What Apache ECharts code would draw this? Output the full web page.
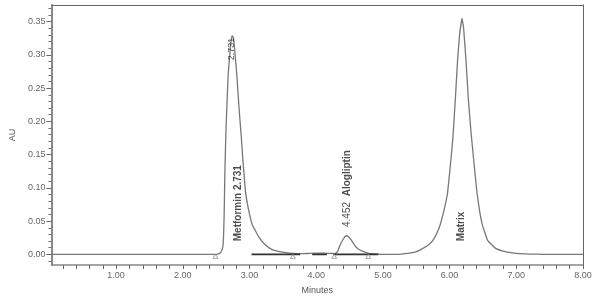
<!DOCTYPE html>
<html>
<head>
<meta charset="utf-8">
<script src="https://cdn.jsdelivr.net/npm/echarts@6/dist/echarts.min.js"></script>
<style>html,body{margin:0;padding:0;background:#fff}#c{width:602px;height:300px}</style>
</head>
<body>
<div id="c"></div>
<script>
// Chromatogram trace: retention time (min) and absorbance (AU)
var traceTime = [0.03,2.45,2.52,2.56,2.585,2.60,2.61,2.62,2.63,2.645,2.66,2.68,2.70,2.72,2.74,2.76,2.78,2.81,2.843,2.877,2.90,2.92,2.94,2.98,3.04,3.14,3.24,3.34,3.45,3.6,3.8,3.9,4.1,4.22,4.28,4.32,4.35,4.40,4.45,4.48,4.53,4.58,4.63,4.71,4.8,4.9,5.0,5.2,5.4,5.5,5.6,5.68,5.75,5.81,5.86,5.92,5.97,6.02,6.05,6.09,6.12,6.15,6.186,6.21,6.245,6.28,6.32,6.36,6.41,6.45,6.49,6.57,6.69,6.8,6.9,7.0,7.2,7.4,8.0];
var traceAU   = [0,0,0.0005,0.002,0.006,0.012,0.025,0.06,0.12,0.18,0.22,0.27,0.295,0.318,0.329,0.325,0.305,0.269,0.22,0.176,0.143,0.118,0.094,0.070,0.045,0.026,0.014,0.007,0.004,0.002,0.001,0.0015,0.002,0.0015,0.001,0.004,0.012,0.022,0.028,0.027,0.021,0.013,0.008,0.004,0.001,0.0005,0,0,0.002,0.004,0.009,0.014,0.021,0.032,0.045,0.068,0.093,0.143,0.176,0.24,0.293,0.33,0.355,0.34,0.293,0.235,0.185,0.143,0.093,0.065,0.045,0.021,0.009,0.005,0.003,0.0015,0.0005,0,0];
// Integration markers and baselines
var markerTimes = [2.49,3.65,4.27,4.78];
var baselineStarts = [3.03,3.94,4.26];
var baselineEnds   = [3.76,4.16,4.93];
// Annotations
var annTexts = ['2.731','Metformin 2.731','4.452','Alogliptin','Matrix'];
var annTime  = [2.729,2.833,4.468,4.468,6.171];
var annAU    = [0.309,0.077,0.060,0.122,0.042];
var annBold  = [false,true,false,true,true];
// Axis ticks
var xLabels = [1,2,3,4,5,6,7,8];
var xTicks = [0.2,0.4,0.6,0.8,1.0,1.2,1.4,1.6,1.8,2.0,2.2,2.4,2.6,2.8,3.0,3.2,3.4,3.6,3.8,4.0,4.2,4.4,4.6,4.8,5.0,5.2,5.4,5.6,5.8,6.0,6.2,6.4,6.6,6.8,7.0,7.2,7.4,7.6,7.8,8.0];
var yLabels = [0,0.05,0.10,0.15,0.20,0.25,0.30,0.35];
var yMinor = [-0.01,0.01,0.02,0.03,0.04,0.06,0.07,0.08,0.09,0.11,0.12,0.13,0.14,0.16,0.17,0.18,0.19,0.21,0.22,0.23,0.24,0.26,0.27,0.28,0.29,0.31,0.32,0.33,0.34,0.36,0.37];

var XMIN = 0.03, XMAX = 8, YMIN = -0.016, YMAX = 0.375;
var font = 'Liberation Sans, Arial, sans-serif';

var trace = traceTime.map(function(t,i){return [t, traceAU[i]];});
var series = [{
  type:'line', data: trace, showSymbol:false, smooth:0.1,
  lineStyle:{color:'#777', width:1.3}, z:3, silent:true
}];
baselineStarts.forEach(function(s,i){
  series.push({type:'line', data:[[s,0],[baselineEnds[i],0]], showSymbol:false,
    lineStyle:{color:'#333', width:1.6}, z:4, silent:true});
});
series.push({type:'scatter', data: markerTimes.map(function(t){return [t,0];}),
  symbol:'triangle', symbolSize:[5,4], symbolOffset:[0,2],
  itemStyle:{color:'#fff', borderColor:'#777', borderWidth:0.8}, z:5, silent:true});
annTexts.forEach(function(txt,i){
  series.push({type:'scatter', data:[[annTime[i], annAU[i]]], symbolSize:1,
    itemStyle:{color:'rgba(0,0,0,0)'}, silent:true, z:6,
    label:{show:true, position:'inside', rotate:90, formatter: txt,
      fontFamily: font, fontSize: annBold[i]?10:(i===0?9:10),
      fontWeight: annBold[i]?'bold':'normal', color:'#222'}});
});

var chart = echarts.init(document.getElementById('c'), null, {renderer:'canvas'});
chart.setOption({
  animation:false,
  backgroundColor:'#fff',
  grid:{left:48, right:19, top:5, bottom:28, containLabel:false},
  xAxis:[{
    type:'value', min:XMIN, max:XMAX, position:'bottom',
    name:'Minutes', nameLocation:'middle', nameGap:21,
    nameTextStyle:{fontFamily:font, fontSize:9, color:'#555'},
    axisLine:{show:true, onZero:false, lineStyle:{color:'#888', width:1.5}},
    axisTick:{show:true, customValues:xTicks, length:4, lineStyle:{color:'#666'}},
    axisLabel:{show:true, customValues:xLabels, margin:6, fontFamily:font, fontSize:9, color:'#666',
      formatter:function(v){return v.toFixed(2);}},
    splitLine:{show:false}
  },{
    type:'value', min:XMIN, max:XMAX, position:'top',
    axisLine:{show:true, onZero:false, lineStyle:{color:'#666', width:1}},
    axisTick:{show:false}, axisLabel:{show:false}, splitLine:{show:false}
  }],
  yAxis:[{
    type:'value', min:YMIN, max:YMAX, position:'left',
    name:'AU', nameLocation:'middle', nameGap:30, nameRotate:90,
    nameTextStyle:{fontFamily:font, fontSize:9, color:'#555'},
    axisLine:{show:true, onZero:false, lineStyle:{color:'#888', width:2}},
    axisTick:{show:true, customValues:yLabels, length:5, lineStyle:{color:'#666'}},
    axisLabel:{show:true, customValues:yLabels, margin:6, fontFamily:font, fontSize:9, color:'#666',
      formatter:function(v){return v.toFixed(2);}},
    splitLine:{show:false}
  },{
    type:'value', min:YMIN, max:YMAX, position:'left',
    axisLine:{show:false},
    axisTick:{show:true, customValues:yMinor, length:3, lineStyle:{color:'#777'}},
    axisLabel:{show:false}, splitLine:{show:false}
  },{
    type:'value', min:YMIN, max:YMAX, position:'right',
    axisLine:{show:true, onZero:false, lineStyle:{color:'#666', width:1}},
    axisTick:{show:false}, axisLabel:{show:false}, splitLine:{show:false}
  }],
  series: series
});
</script>
</body>
</html>
